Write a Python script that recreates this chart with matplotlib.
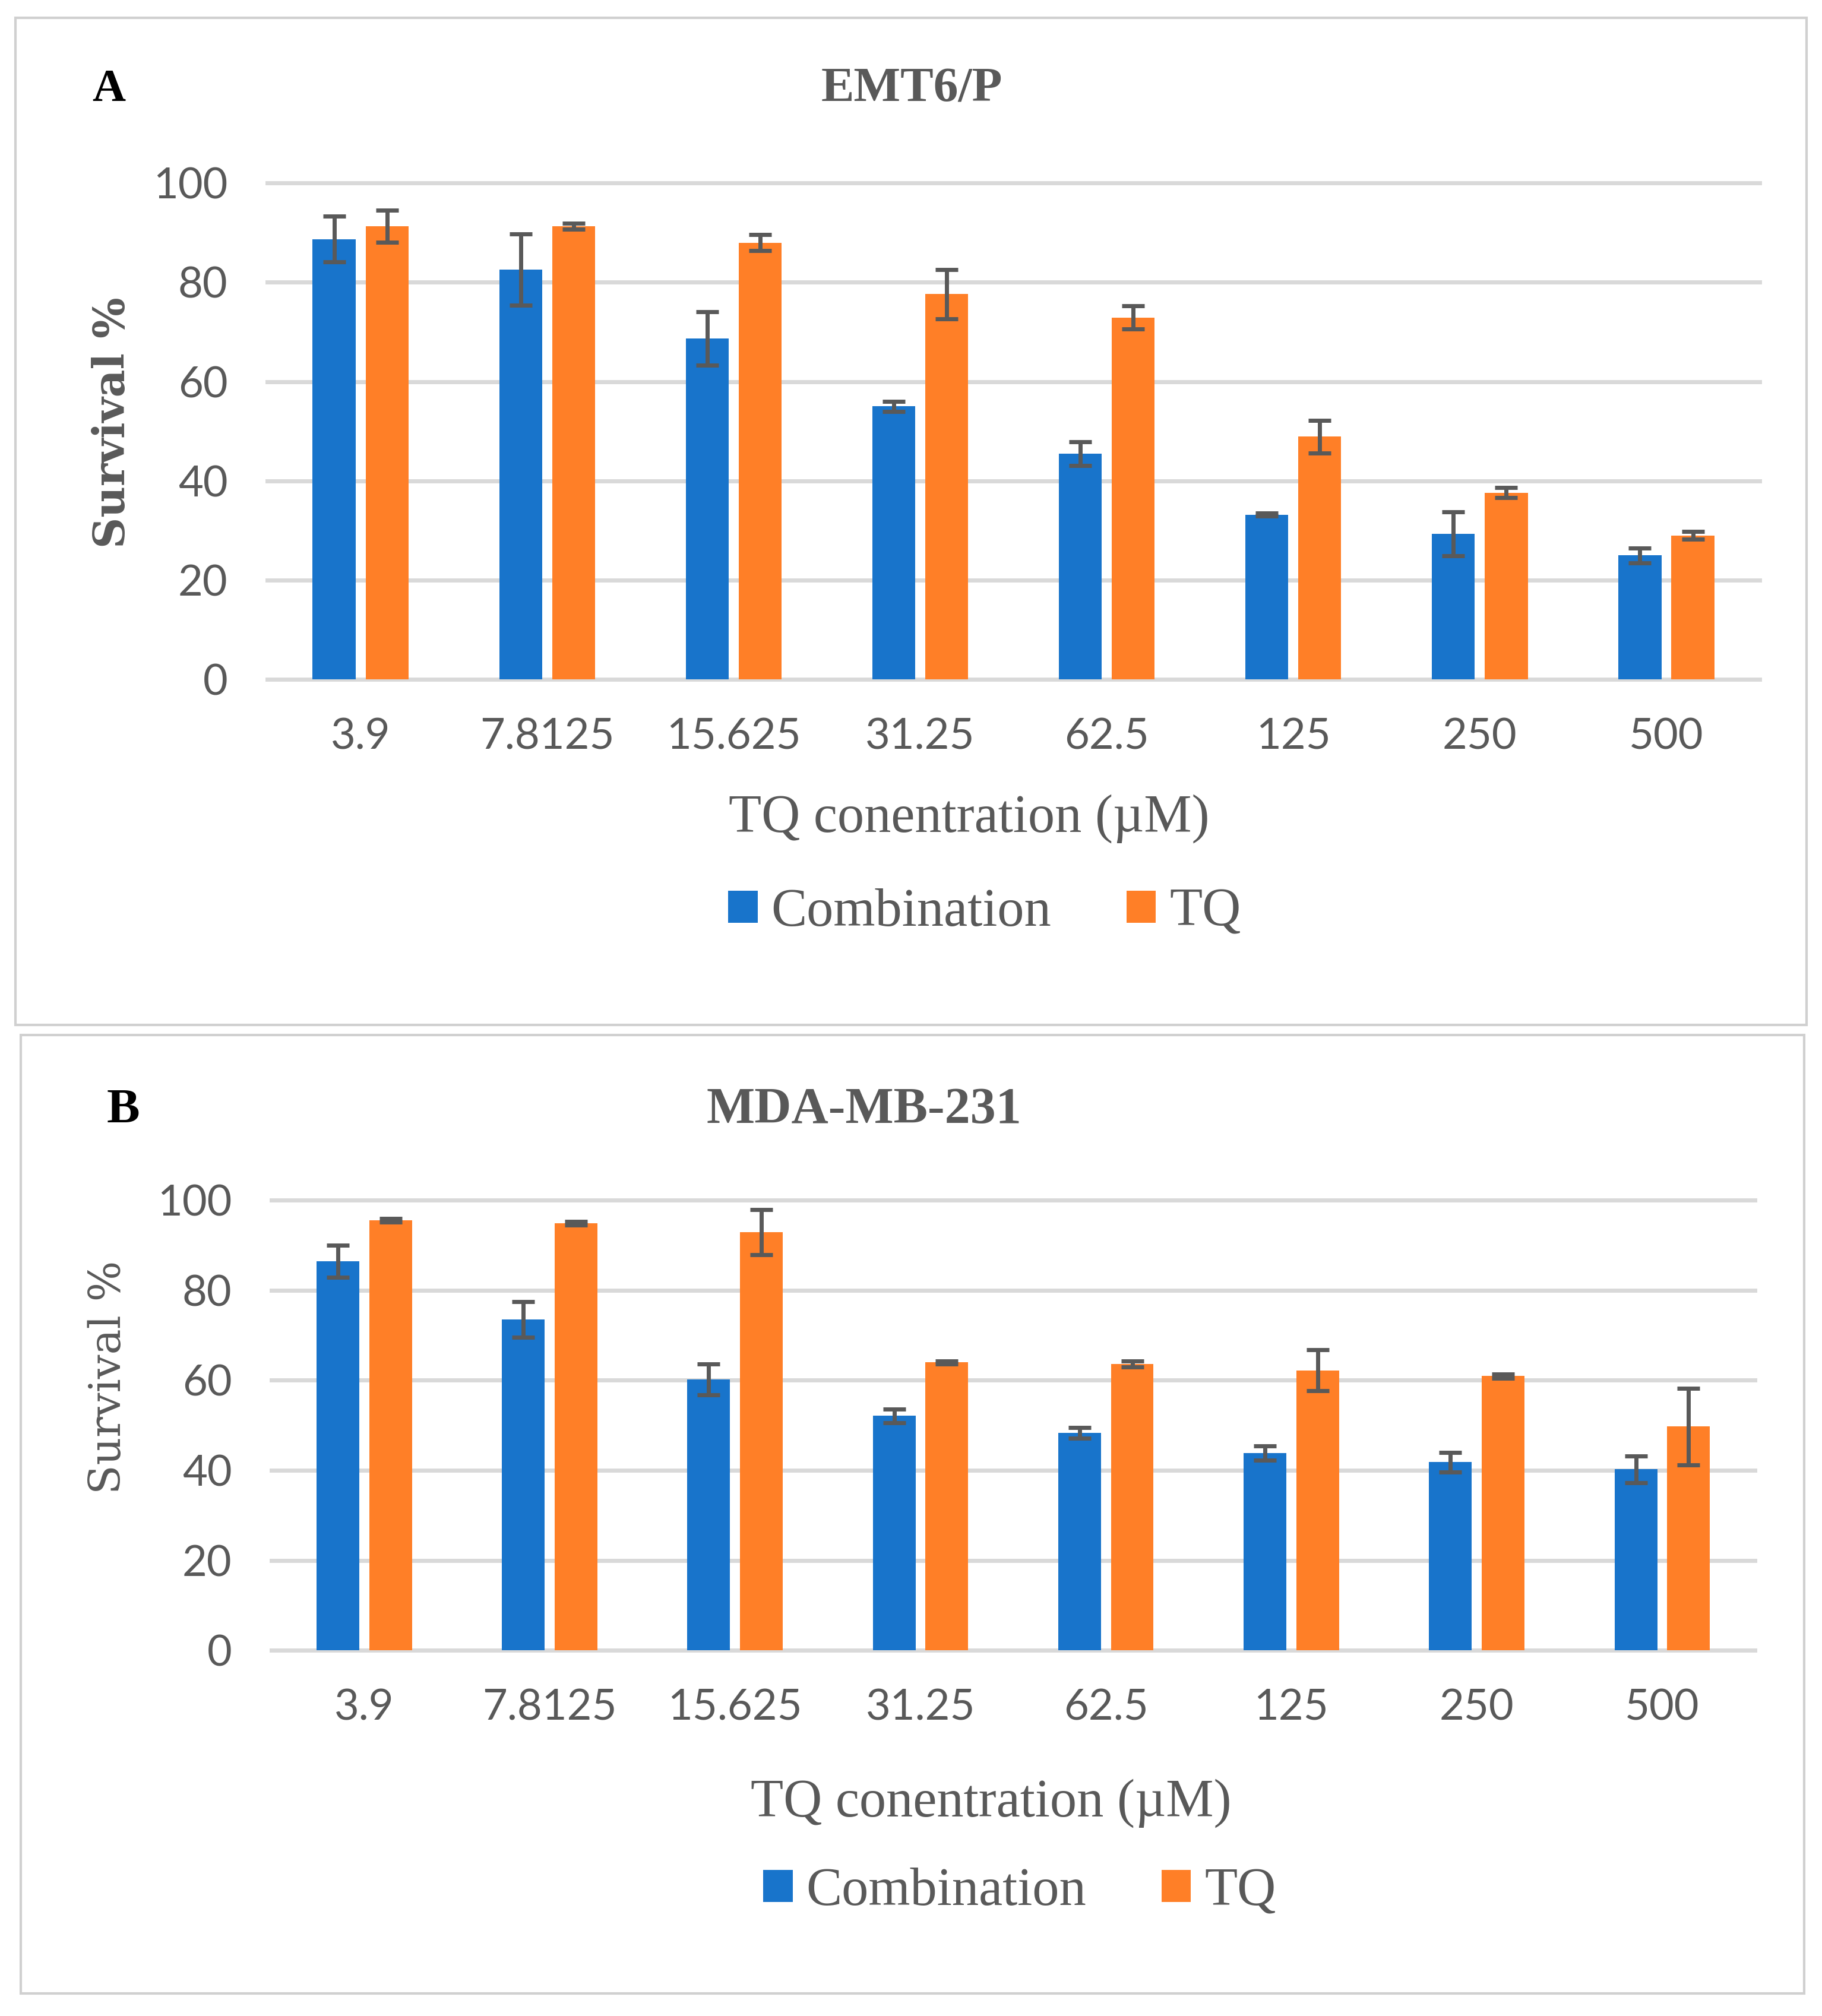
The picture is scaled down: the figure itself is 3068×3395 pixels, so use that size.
import matplotlib
matplotlib.use("Agg")
import matplotlib.pyplot as plt
from matplotlib.patches import Rectangle
import numpy as np

concentrations = ["3.9", "7.8125", "15.625", "31.25", "62.5", "125", "250", "500"]

# panel A: EMT6/P
emt_combination = [88.7, 82.6, 68.7, 55.0, 45.5, 33.2, 29.3, 25.0]
emt_combination_err = [4.6, 7.2, 5.4, 1.0, 2.4, 0.3, 4.45, 1.5]
emt_tq = [91.3, 91.3, 88.0, 77.6, 72.9, 48.9, 37.6, 29.0]
emt_tq_err = [3.2, 0.6, 1.6, 5.0, 2.35, 3.3, 1.0, 0.75]

# panel B: MDA-MB-231
mda_combination = [86.4, 73.5, 60.2, 52.1, 48.3, 43.8, 41.8, 40.2]
mda_combination_err = [3.55, 3.95, 3.4, 1.5, 1.25, 1.55, 2.15, 3.0]
mda_tq = [95.5, 94.85, 92.85, 63.95, 63.6, 62.2, 60.9, 49.7]
mda_tq_err = [0.4, 0.4, 5.0, 0.3, 0.65, 4.5, 0.5, 8.5]

yticks = [0, 20, 40, 60, 80, 100]

BLUE = "#1874CB"
ORANGE = "#FF7F27"
GRAY = "#595959"
GRID = "#D9D9D9"

SERIF = "Liberation Serif"
SANS = "Lato"

fig = plt.figure(figsize=(30.68, 33.95), dpi=100)

# panel frames
fig.patches.append(Rectangle((0.0085, 0.4916), 0.9831, 0.4996, transform=fig.transFigure,
                             fill=False, edgecolor="#D0D0D0", linewidth=3))
fig.patches.append(Rectangle((0.0114, 0.0112), 0.9788, 0.4754, transform=fig.transFigure,
                             fill=False, edgecolor="#D0D0D0", linewidth=3))


def draw_panel(rect, comb, comb_err, tq, tq_err):
    ax = fig.add_axes(rect)
    x = np.arange(len(concentrations))
    width = 0.23
    off = 0.142
    for v in yticks:
        ax.axhline(v, color=GRID, linewidth=5, zorder=0, clip_on=False)
    err_kw = dict(ecolor=GRAY, elinewidth=5, capsize=14, capthick=5)
    ax.bar(x - off, comb, width, yerr=comb_err, color=BLUE, label="Combination",
           error_kw=err_kw, zorder=2)
    ax.bar(x + off, tq, width, yerr=tq_err, color=ORANGE, label="TQ",
           error_kw=err_kw, zorder=2)
    ax.set_xlim(-0.5, len(concentrations) - 0.5)
    ax.set_ylim(0, 100)
    ax.set_yticks(yticks)
    ax.set_xticks(x)
    ax.set_xticklabels(concentrations)
    for s in ax.spines.values():
        s.set_visible(False)
    ax.tick_params(axis="both", length=0, labelsize=52, labelcolor=GRAY)
    ax.tick_params(axis="x", pad=46)
    ax.tick_params(axis="y", pad=48)
    for lab in ax.get_xticklabels() + ax.get_yticklabels():
        lab.set_fontfamily(SANS)
    return ax


ax_a = draw_panel([0.1467, 0.6630, 0.8191, 0.2462],
                  emt_combination, emt_combination_err, emt_tq, emt_tq_err)
ax_b = draw_panel([0.1490, 0.1814, 0.8142, 0.2233],
                  mda_combination, mda_combination_err, mda_tq, mda_tq_err)

# panel letters and titles
fig.text(0.0597, 0.9555, "A", fontsize=56, fontweight="bold", family=SERIF,
         color="black", ha="center", va="center")
fig.text(0.0675, 0.4489, "B", fontsize=60, fontweight="bold", family=SERIF,
         color="black", ha="center", va="center")
fig.text(0.5003, 0.9555, "EMT6/P", fontsize=60, fontweight="bold", family=SERIF,
         color=GRAY, ha="center", va="center")
fig.text(0.4743, 0.4489, "MDA-MB-231", fontsize=62, fontweight="bold", family=SERIF,
         color=GRAY, ha="center", va="center")

# axis labels
fig.text(0.0619, 0.7903, "Survival %", fontsize=52, fontweight="bold", family="DejaVu Serif",
         color=GRAY, rotation=90, ha="center", va="center")
fig.text(0.0597, 0.3169, "Survival %", fontsize=52, family="DejaVu Serif",
         color=GRAY, rotation=90, ha="center", va="center")
fig.text(0.532, 0.5939, "TQ conentration (µM)", fontsize=65, family=SERIF,
         color=GRAY, ha="center", va="center")
fig.text(0.544, 0.1055, "TQ conentration (µM)", fontsize=65, family=SERIF,
         color=GRAY, ha="center", va="center")

# legends
for ax, pos in [(ax_a, (0.5404, 0.5474)), (ax_b, (0.5596, 0.0616))]:
    handles, labels = ax.get_legend_handles_labels()
    leg = fig.legend(handles, labels, loc="center", bbox_to_anchor=pos, ncol=2,
                     frameon=False, prop={"family": SERIF, "size": 65},
                     handlelength=0.55, handleheight=0.55, handletextpad=0.25,
                     columnspacing=1.4, borderaxespad=0)
    for t in leg.get_texts():
        t.set_color(GRAY)

fig.savefig("out.png", dpi=100)
